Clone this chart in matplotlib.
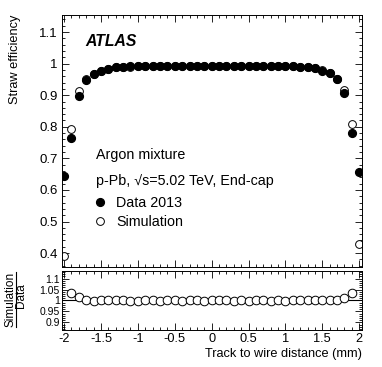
import numpy as np
import matplotlib
matplotlib.use('Agg')
from matplotlib import pyplot as plt
from matplotlib.ticker import MultipleLocator, FormatStrFormatter
from matplotlib.lines import Line2D

plt.rcParams['font.family'] = ['Liberation Sans', 'DejaVu Sans']

# 径迹到丝的距离 (mm)
dist = [-2.0, -1.9, -1.8, -1.7, -1.6, -1.5, -1.4, -1.3, -1.2, -1.1,
        -1.0, -0.9, -0.8, -0.7, -0.6, -0.5, -0.4, -0.3, -0.2, -0.1,
        0.0, 0.1, 0.2, 0.3, 0.4, 0.5, 0.6, 0.7, 0.8, 0.9,
        1.0, 1.1, 1.2, 1.3, 1.4, 1.5, 1.6, 1.7, 1.8, 1.9, 2.0]

# 数据 2013
eff_data = [0.644, 0.765, 0.897, 0.949, 0.968, 0.978, 0.984, 0.988, 0.990, 0.991,
            0.992, 0.992, 0.993, 0.993, 0.993, 0.993, 0.993, 0.993, 0.993, 0.993,
            0.993, 0.993, 0.993, 0.993, 0.993, 0.993, 0.993, 0.993, 0.993, 0.992,
            0.992, 0.991, 0.990, 0.988, 0.985, 0.978, 0.969, 0.950, 0.908, 0.781, 0.656]

# 模拟
eff_sim = [0.391, 0.792, 0.912, 0.950, 0.967, 0.978, 0.984, 0.988, 0.990, 0.990,
           0.991, 0.992, 0.993, 0.992, 0.993, 0.993, 0.992, 0.993, 0.993, 0.992,
           0.993, 0.993, 0.993, 0.992, 0.993, 0.992, 0.993, 0.993, 0.992, 0.992,
           0.991, 0.991, 0.990, 0.988, 0.985, 0.980, 0.970, 0.951, 0.917, 0.808, 0.428]

ratio = np.array(eff_sim) / np.array(eff_data)

fig = plt.figure(figsize=(3.82, 3.67), dpi=100)
ax = fig.add_axes([0.162, 0.2725, 0.786, 0.6866])
rax = fig.add_axes([0.162, 0.1008, 0.786, 0.1608])

# 主图
ax.plot(dist, eff_sim, 'o', mfc='white', mec='black', mew=0.7, ms=5.6, label='Simulation', zorder=2)
ax.plot(dist, eff_data, 'o', color='black', ms=5.6, label='Data 2013', zorder=3)
ax.set_xlim(-2.03, 2.04)
ax.set_ylim(0.356, 1.154)
ax.yaxis.set_major_locator(MultipleLocator(0.1))
ax.yaxis.set_minor_locator(MultipleLocator(0.02))
ax.yaxis.set_major_formatter(FormatStrFormatter('%g'))
ax.xaxis.set_major_locator(MultipleLocator(0.5))
ax.xaxis.set_minor_locator(MultipleLocator(0.1))
ax.tick_params(which='both', direction='in', top=True, right=True, labelbottom=False)
ax.tick_params(which='major', length=5, width=0.6, labelsize=9.5, pad=3)
ax.tick_params(which='minor', length=2.5, width=0.6)
ax.set_ylabel('Straw efficiency', fontsize=9.2, loc='top')
ax.yaxis.set_label_coords(-0.135, 1.0)

ax.text(0.077, 0.893, 'ATLAS', transform=ax.transAxes, fontsize=11.3,
        fontweight='bold', fontstyle='italic', va='center')
ax.text(0.113, 0.444, 'Argon mixture', transform=ax.transAxes, fontsize=10.3, va='center')
ax.text(0.113, 0.341, 'p-Pb, \u221as=5.02 TeV, End-cap', transform=ax.transAxes,
        fontsize=10.3, va='center')

h_data = Line2D([], [], ls='none', marker='o', color='black', ms=5.6)
h_sim = Line2D([], [], ls='none', marker='o', mfc='white', mec='black', mew=0.7, ms=5.6)
ax.legend([h_data, h_sim], ['Data 2013', 'Simulation'], loc='upper left',
          bbox_to_anchor=(0.085, 0.305), frameon=False, fontsize=10.3,
          handlelength=1.0, handletextpad=0.6, labelspacing=0.35, borderaxespad=0)

# 比值图
rax.axhline(1.0, color='black', lw=0.8, zorder=1)
rax.plot(dist, ratio, 'o', mfc='white', mec='black', mew=0.7, ms=6.2, zorder=2)
rax.set_xlim(-2.03, 2.04)
rax.set_ylim(0.865, 1.135)
rax.yaxis.set_major_locator(MultipleLocator(0.05))
rax.yaxis.set_minor_locator(MultipleLocator(0.01))
rax.yaxis.set_major_formatter(FormatStrFormatter('%g'))
rax.xaxis.set_major_locator(MultipleLocator(0.5))
rax.xaxis.set_minor_locator(MultipleLocator(0.1))
rax.xaxis.set_major_formatter(FormatStrFormatter('%g'))
rax.tick_params(which='both', direction='in', top=True, right=True)
rax.tick_params(which='major', length=5, width=0.6, pad=2)
rax.tick_params(which='minor', length=2.5, width=0.6)
rax.tick_params(axis='x', labelsize=9.2)
rax.tick_params(axis='y', labelsize=7.5, pad=1.5)
rax.set_xlabel('Track to wire distance (mm)', fontsize=9.2, loc='right')
rax.xaxis.set_label_coords(1.0, -0.30)

for a in (ax, rax):
    for s in a.spines.values():
        s.set_linewidth(0.7)

# 比值图纵轴标题
fig.text(10.5 / 382, 1 - 299.5 / 367, 'Simulation', rotation=90, ha='center', va='center', fontsize=8.5)
fig.text(21 / 382, 1 - 296 / 367, 'Data', rotation=90, ha='center', va='center', fontsize=8.5)
fig.add_artist(Line2D([16 / 382, 16 / 382], [1 - 272 / 367, 1 - 327 / 367], color='black', lw=0.8))

fig.savefig('out.png', dpi=100)
